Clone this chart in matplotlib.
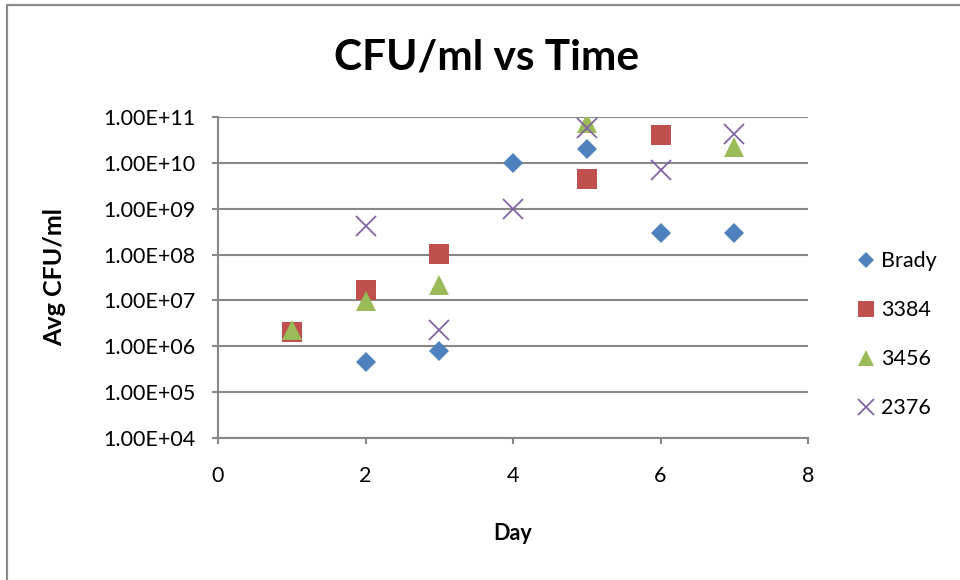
import matplotlib.pyplot as plt
from matplotlib.patches import Rectangle

# Data
days_brady = [2, 3, 4, 5, 6, 7]
cfu_brady = [4.6e5, 7.9e5, 1.0e10, 2.0e10, 3.0e8, 3.0e8]

days_3384 = [1, 2, 3, 5, 6]
cfu_3384 = [2.0e6, 1.7e7, 1.05e8, 4.5e9, 4.0e10]

days_3456 = [1, 2, 3, 5, 7]
cfu_3456 = [2.25e6, 9.5e6, 2.2e7, 7.3e10, 2.2e10]

days_2376 = [2, 3, 4, 5, 6, 7]
cfu_2376 = [4.2e8, 2.3e6, 1.0e9, 5.9e10, 7.1e9, 4.2e10]

y_ticks = [1e4, 1e5, 1e6, 1e7, 1e8, 1e9, 1e10, 1e11]
y_tick_labels = ["1.00E+04", "1.00E+05", "1.00E+06", "1.00E+07",
                 "1.00E+08", "1.00E+09", "1.00E+10", "1.00E+11"]
x_ticks = [0, 2, 4, 6, 8]

plt.rcParams["font.family"] = ["Lato", "DejaVu Sans"]
grid_color = "#878787"

fig = plt.figure(figsize=(9.6, 5.8), dpi=100)
ax = fig.add_axes([218 / 960, 1 - 438 / 580, (808 - 218) / 960, (438 - 117) / 580])

# outer chart border (only left and top visible in the crop)
fig.patches.append(Rectangle((7 / 960, -0.05), 1.1, 1 - 5 / 580 + 0.05,
                             transform=fig.transFigure, fill=False,
                             edgecolor="#8a8a8a", linewidth=1.6))

ax.plot(days_brady, cfu_brady, linestyle="none", marker="D", markersize=10,
        color="#4F81BD", markeredgewidth=0, label="Brady", zorder=3)
ax.plot(days_3384, cfu_3384, linestyle="none", marker="s", markersize=14,
        color="#C0504D", markeredgewidth=0, label="3384", zorder=3)
ax.plot(days_3456, cfu_3456, linestyle="none", marker="^", markersize=14,
        color="#9BBB59", markeredgewidth=0, label="3456", zorder=3)
ax.plot(days_2376, cfu_2376, linestyle="none", marker="x", markersize=14,
        color="#8064A2", markeredgewidth=1.3, label="2376", zorder=3)

ax.set_yscale("log")
ax.set_ylim(1e4, 1e11)
ax.set_xlim(0, 8)
ax.set_yticks(y_ticks)
ax.set_yticklabels(y_tick_labels)
ax.minorticks_off()
ax.set_xticks(x_ticks)

ax.yaxis.grid(True, color=grid_color, linewidth=1.5)
ax.set_axisbelow(True)
for side in ("top", "right"):
    ax.spines[side].set_visible(False)
for side in ("left", "bottom"):
    ax.spines[side].set_color(grid_color)
    ax.spines[side].set_linewidth(1.5)
ax.tick_params(axis="both", direction="out", length=4.5, width=1.5,
               color=grid_color, labelsize=15.5, labelcolor="black")
ax.tick_params(axis="x", pad=16)
ax.tick_params(axis="y", pad=11.5)

ax.set_xlabel("Day", fontsize=15.5, fontweight="bold")
ax.set_ylabel("Avg CFU/ml", fontsize=18, fontweight="bold")
ax.xaxis.set_label_coords(0.5, (438 - 534) / 321, transform=ax.transAxes)
ax.yaxis.set_label_coords((55 - 218) / 590, 0.5, transform=ax.transAxes)
ax.xaxis.label.set_va("center")
ax.yaxis.label.set_va("center")

fig.text(487 / 960, 1 - 57 / 580, "CFU/ml vs Time", fontsize=30.5,
         fontweight="bold", ha="center", va="center")

ax.legend(loc="center left", bbox_to_anchor=(1.043, 0.322), frameon=False,
          fontsize=15.5, handletextpad=0.1, labelspacing=1.35,
          handlelength=1.2, markerscale=0.8)

fig.savefig("out.png", dpi=100)
